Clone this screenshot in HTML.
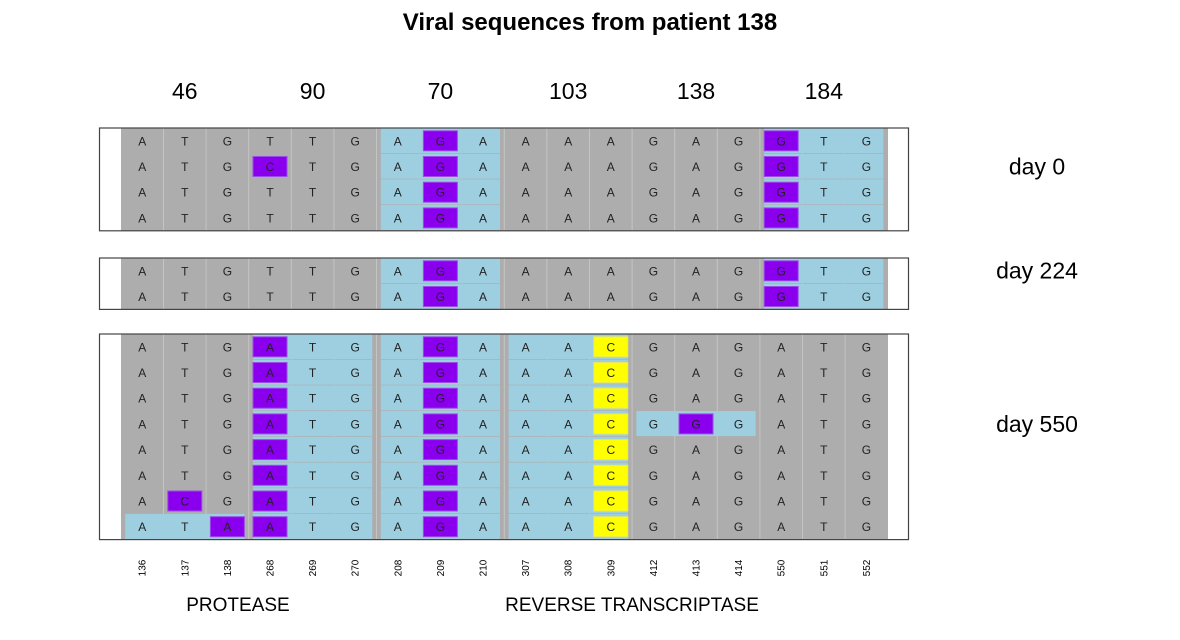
<!DOCTYPE html>
<html><head><meta charset="utf-8"><style>
body{margin:0;background:#fff;}
svg{display:block;font-family:"Liberation Sans",Arial,sans-serif;}
</style></head><body>
<svg id="chart" width="1180" height="640" viewBox="0 0 1180 640">
<text x="590" y="30" text-anchor="middle" font-size="24" font-weight="bold">Viral sequences from patient 138</text>
<g id="g"></g>
<text x="238" y="611" text-anchor="middle" font-size="19">PROTEASE</text>
<text x="632" y="611" text-anchor="middle" font-size="19">REVERSE TRANSCRIPTASE</text>
</svg>
<script>
const positions=["136","137","138","268","269","270","208","209","210","307","308","309","412","413","414","550","551","552"];
const codonLabels=["46","90","70","103","138","184"];
const dayLabels=["day 0","day 224","day 550"];
const panel0=["ATGTTGAGAAAAGAGGTG","ATGCTGAGAAAAGAGGTG","ATGTTGAGAAAAGAGGTG","ATGTTGAGAAAAGAGGTG"];
const panel1=["ATGTTGAGAAAAGAGGTG","ATGTTGAGAAAAGAGGTG"];
const panel2=["ATGATGAGAAACGAGATG","ATGATGAGAAACGAGATG","ATGATGAGAAACGAGATG","ATGATGAGAAACGGGATG","ATGATGAGAAACGAGATG","ATGATGAGAAACGAGATG","ACGATGAGAAACGAGATG","ATAATGAGAAACGAGATG"];
const blue0=[[-1,2],[-1,5]];
const blue1=[[-1,2],[-1,5]];
const blue2=[[-1,1],[-1,2],[-1,3],[7,0],[3,4]];
const hi0=[[1,3,"p"],[-1,7,"p"],[-1,15,"p"]];
const hi1=[[-1,7,"p"],[-1,15,"p"]];
const hi2=[[-1,3,"p"],[-1,7,"p"],[-1,11,"y"],[6,1,"p"],[7,2,"p"],[3,13,"p"]];
const panels=[{seqs:panel0,blue:blue0,hi:hi0,top:128},{seqs:panel1,blue:blue1,hi:hi1,top:258},{seqs:panel2,blue:blue2,hi:hi2,top:334}];
const NS="http://www.w3.org/2000/svg";
const g=document.getElementById('g');
const cx=i=>142.2+42.6*i, RH=25.7;
function mk(t,a,p){const e=document.createElementNS(NS,t);for(const k in a)e.setAttribute(k,a[k]);(p||g).appendChild(e);return e;}
codonLabels.forEach((l,i)=>{const t=mk('text',{x:cx(i*3+1),y:99,'text-anchor':'middle','font-size':23});t.textContent=l;

});
positions.forEach((p,i)=>{const t=mk('text',{x:0,y:0,'text-anchor':'middle','font-size':10,transform:`translate(${cx(i)+3.5},568) rotate(-90)`});t.textContent=p;

});
panels.forEach((P,pi)=>{
 const n=P.seqs.length,h=n*RH,top=P.top;
 const pg=mk('g',{});
 
 
 mk('rect',{x:121,y:top,width:767,height:h,fill:'#adadad'},pg);
 for(let i=1;i<18;i++){mk('line',{x1:cx(i)-21.3,x2:cx(i)-21.3,y1:top,y2:top+h,stroke:'#c4c4c4','stroke-width':1},pg);}
 P.blue.forEach(([r,c])=>{const rows=r<0?[...Array(n).keys()]:[r];
  rows.forEach(rr=>{const b=mk('rect',{x:cx(c*3)-17,y:top+rr*RH,width:cx(c*3+2)-cx(c*3)+34,height:RH-0.7,fill:'#9ecfe0'},pg);
  
  });});
 P.hi.forEach(([r,c,col])=>{const rows=r<0?[...Array(n).keys()]:[r];
  rows.forEach(rr=>{const b=mk('rect',{x:cx(c)-17,y:top+rr*RH+2.8,width:34,height:20,fill:col=='p'?'#8a00ee':'#ffff00',stroke:col=='p'?'#9b4de8':'#e8e860','stroke-width':1},pg);
  
  });});
 P.seqs.forEach((s,r)=>{for(let i=0;i<18;i++){const t=mk('text',{x:cx(i),y:top+r*RH+17.3,'text-anchor':'middle','font-size':12,fill:'#222'},pg);t.textContent=s[i];}});
 const box=mk('rect',{x:99.5,y:top,width:809,height:h,fill:'none',stroke:'#444','stroke-width':1.2},pg);
 
 
 const dl=mk('text',{x:1037,y:top+h/2-5,'text-anchor':'middle','font-size':23});dl.textContent=dayLabels[pi];
 
 
});
</script>
</body></html>
